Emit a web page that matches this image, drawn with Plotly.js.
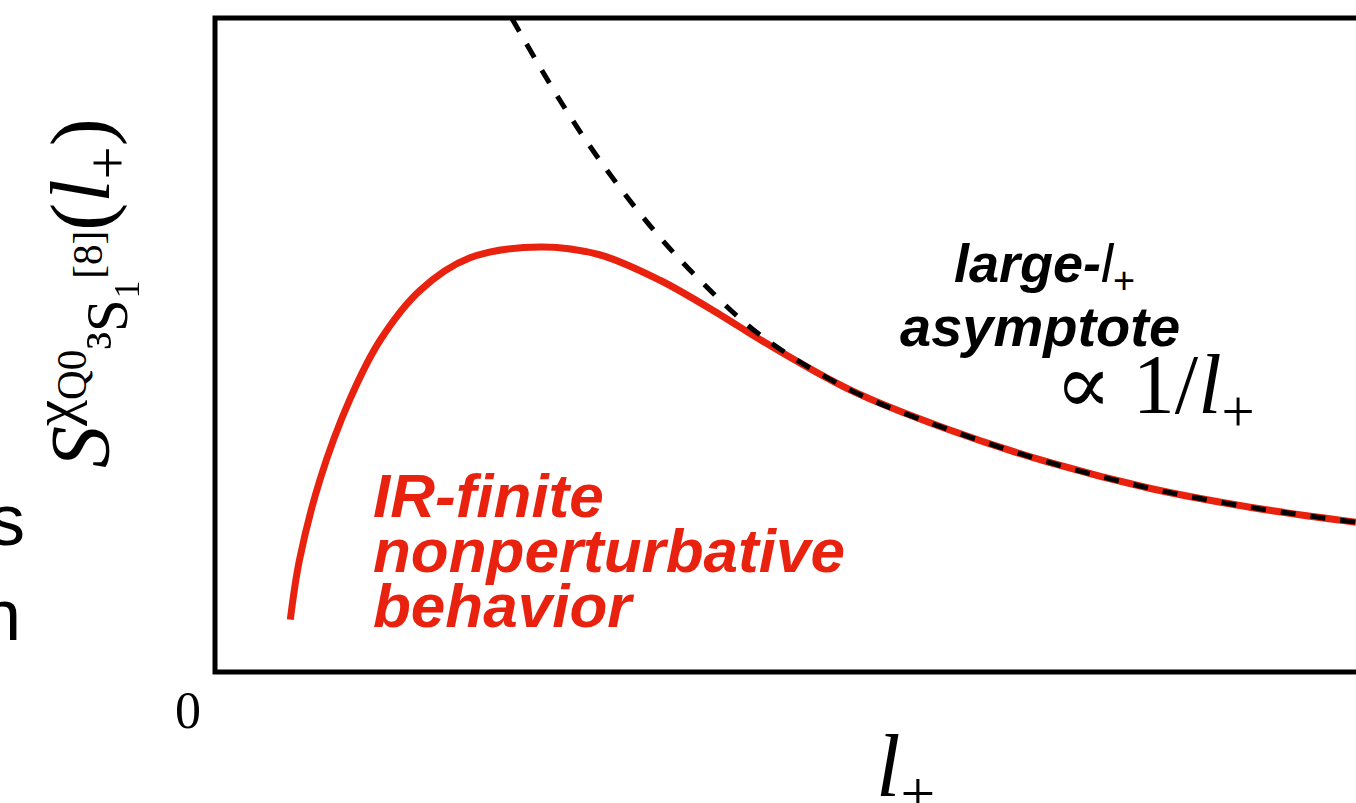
<!DOCTYPE html>
<html>
<head>
<meta charset="utf-8">
<script src="https://cdn.plot.ly/plotly-3.0.1.min.js"></script>
<style>html,body{margin:0;padding:0;background:#fff}#plot{width:1356px;height:803px}</style>
</head>
<body>
<div id="plot"></div>
<script>
// red curve: soft function values
const softX = [0.66, 0.74, 0.92, 1.18, 1.45, 1.80, 2.23, 2.85, 3.37, 3.90, 4.43, 4.78, 5.57, 6.44, 7.32, 8.19, 9.07, 10.0];
const softY = [0.80, 1.71, 2.94, 4.16, 5.08, 5.84, 6.33, 6.50, 6.38, 5.99, 5.46, 5.08, 4.31, 3.70, 3.20, 2.81, 2.52, 2.29];

// dashed large-l+ asymptote
const asymX = [2.60, 3.02, 3.37, 3.81, 4.25, 4.78, 5.57, 6.44, 7.32, 8.19, 9.07, 10.0];
const asymY = [10.0, 8.75, 7.83, 6.83, 5.99, 5.15, 4.31, 3.70, 3.20, 2.81, 2.52, 2.29];

const serif = 'Liberation Serif, DejaVu Serif, serif';
const sans = 'Liberation Sans, Arial, sans-serif';

const traces = [
  {
    type: 'scatter', mode: 'lines', x: softX, y: softY,
    line: { color: '#e8220f', width: 7, shape: 'spline' }, hoverinfo: 'skip'
  },
  {
    type: 'scatter', mode: 'lines', x: asymX, y: asymY,
    line: { color: '#000', width: 5, dash: 'dash', shape: 'spline' }, hoverinfo: 'skip'
  }
];

function note(text, x, y, opts) {
  return Object.assign({ text, x, y, xref: 'paper', yref: 'paper', showarrow: false, xanchor: 'center' }, opts);
}

const layout = {
  width: 1356, height: 803,
  paper_bgcolor: '#fff', plot_bgcolor: '#fff',
  margin: { l: 215, r: 0, t: 18, b: 131 },
  showlegend: false,
  xaxis: { range: [0, 10], showgrid: false, zeroline: false, showticklabels: false, ticks: '' },
  yaxis: { range: [0, 10], showgrid: false, zeroline: false, showticklabels: false, ticks: '' },
  shapes: [
    { type: 'rect', xref: 'paper', yref: 'paper', x0: 0, x1: 1.01, y0: 0, y1: 1, line: { color: '#000', width: 5 } }
  ],
  annotations: [
    note('<b><i>large-</i></b><i>l</i><sub>+</sub>', 0.727, 0.62, { font: { family: sans, size: 54, color: '#000' } }),
    note('<b><i>asymptote</i></b>', 0.723, 0.528, { font: { family: sans, size: 56, color: '#000' } }),
    note('∝ 1/<i>l</i><sub>+</sub>', 0.913, 0.43, { xanchor: 'right', font: { family: serif, size: 84, color: '#000' } }),
    note('<b><i>IR-finite</i></b>', 0.137, 0.214, { xanchor: 'left', font: { family: sans, size: 62, color: '#e8220f' } }),
    note('<b><i>nonperturbative</i></b>', 0.137, 0.13, { xanchor: 'left', font: { family: sans, size: 62, color: '#e8220f' } }),
    note('<b><i>behavior</i></b>', 0.137, 0.046, { xanchor: 'left', font: { family: sans, size: 62, color: '#e8220f' } }),
    note('0', -0.024, -0.105, { font: { family: serif, size: 52, color: '#000' } }),
    note('<i>l</i><sub>+</sub>', 0.605, -0.24, { font: { family: serif, size: 88, color: '#000' } }),
    note('<i>S</i><sup>χ<sub>Q0</sub></sup><sub>³S₁<sup>[8]</sup></sub>(<i>l</i><sub>+</sub>)', -0.118, 0.58,
      { textangle: -90, font: { family: serif, size: 84, color: '#000' } }),
    note('s', -0.2, 0.168, { xanchor: 'left', font: { family: sans, size: 72, color: '#000' } }),
    note('n', -0.207, 0.023, { xanchor: 'left', font: { family: sans, size: 72, color: '#000' } })
  ]
};

Plotly.newPlot('plot', traces, layout, { displayModeBar: false, staticPlot: true });
</script>
</body>
</html>
